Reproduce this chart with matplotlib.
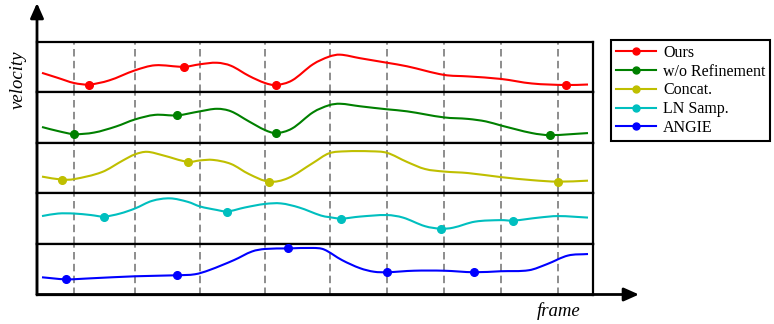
import numpy as np
import matplotlib
matplotlib.use("Agg")
import matplotlib.pyplot as plt
from matplotlib.path import Path
from matplotlib.patches import PathPatch, FancyArrowPatch, ArrowStyle
from matplotlib.lines import Line2D

plt.rcParams['font.family'] = ['Liberation Serif', 'DejaVu Serif']

# ---------------- data (frame position, normalised velocity within panel) ----------------
series_names = ["Ours", "w/o Refinement", "Concat.", "LN Samp.", "ANGIE"]
series_colors = ["r", "g", "y", "c", "b"]

frame_grid = [37, 97.5, 163, 228, 292.5, 350, 407, 464, 521]

ours_x = [5, 21, 37, 52, 72, 98, 118, 147, 163, 180, 194, 212, 228, 239, 255, 276, 292, 303,
          323, 350, 370, 407, 431, 464, 495, 529, 551]
ours_v = [0.38, 0.28, 0.18, 0.15, 0.23, 0.43, 0.53, 0.50, 0.55, 0.58, 0.52, 0.32, 0.18, 0.14,
          0.23, 0.55, 0.70, 0.74, 0.67, 0.58, 0.51, 0.34, 0.31, 0.26, 0.17, 0.14, 0.15]
ours_mx = [52, 147, 239, 529]
ours_mv = [0.15, 0.50, 0.14, 0.14]

wor_x = [5, 21, 37, 57, 79, 98, 118, 140, 163, 180, 194, 212, 228, 239, 255, 276, 292, 303,
         323, 350, 370, 407, 431, 449, 464, 495, 513, 551]
wor_v = [0.31, 0.23, 0.17, 0.20, 0.32, 0.46, 0.55, 0.54, 0.62, 0.67, 0.62, 0.42, 0.25, 0.19,
         0.28, 0.60, 0.74, 0.77, 0.72, 0.66, 0.62, 0.50, 0.47, 0.42, 0.34, 0.19, 0.15, 0.19]
wor_mx = [37, 140, 239, 513]
wor_mv = [0.17, 0.54, 0.19, 0.15]

concat_x = [5, 25, 37, 65, 86, 98, 110, 126, 151, 163, 176, 194, 212, 232, 251, 276, 292, 309,
            334, 350, 370, 388, 407, 431, 464, 495, 521, 551]
concat_v = [0.33, 0.27, 0.28, 0.42, 0.65, 0.77, 0.82, 0.75, 0.62, 0.65, 0.66, 0.58, 0.38, 0.23,
            0.30, 0.60, 0.79, 0.83, 0.83, 0.80, 0.62, 0.48, 0.43, 0.40, 0.32, 0.26, 0.23, 0.25]
concat_mx = [25, 151, 232, 521]
concat_mv = [0.27, 0.62, 0.23, 0.23]

ln_x = [5, 21, 37, 54, 67, 83, 98, 115, 133, 151, 163, 180, 190, 208, 228, 244, 262, 284, 292,
        304, 323, 350, 366, 388, 404, 416, 438, 464, 476, 502, 521, 551]
ln_v = [0.55, 0.60, 0.60, 0.57, 0.54, 0.60, 0.70, 0.85, 0.90, 0.83, 0.74, 0.67, 0.64, 0.72,
        0.79, 0.80, 0.72, 0.56, 0.53, 0.50, 0.54, 0.57, 0.52, 0.35, 0.30, 0.32, 0.44, 0.47,
        0.46, 0.52, 0.55, 0.52]
ln_mx = [67, 190, 304, 404, 476]
ln_mv = [0.54, 0.64, 0.50, 0.30, 0.46]

angie_x = [5, 29, 54, 98, 140, 158, 172, 197, 215, 228, 251, 276, 287, 305, 323, 337, 350, 377,
           407, 437, 464, 492, 510, 531, 551]
angie_v = [0.34, 0.30, 0.32, 0.36, 0.38, 0.40, 0.48, 0.68, 0.85, 0.90, 0.91, 0.92, 0.89, 0.68,
           0.52, 0.45, 0.44, 0.47, 0.47, 0.44, 0.46, 0.48, 0.60, 0.77, 0.80]
angie_mx = [29, 140, 251, 350, 437]
angie_mv = [0.30, 0.38, 0.91, 0.44, 0.44]

curves = [(ours_x, ours_v, ours_mx, ours_mv),
          (wor_x, wor_v, wor_mx, wor_mv),
          (concat_x, concat_v, concat_mx, concat_mv),
          (ln_x, ln_v, ln_mx, ln_mv),
          (angie_x, angie_v, angie_mx, angie_mv)]


def smooth_path(x, y):
    """Cubic Hermite (Bezier) path through the points."""
    x = np.asarray(x, float)
    y = np.asarray(y, float)
    n = len(x)
    m = np.zeros(n)
    for i in range(n):
        if i == 0:
            m[i] = (y[1] - y[0]) / (x[1] - x[0])
        elif i == n - 1:
            m[i] = (y[-1] - y[-2]) / (x[-1] - x[-2])
        else:
            m[i] = (y[i + 1] - y[i - 1]) / (x[i + 1] - x[i - 1])
    verts = [(x[0], y[0])]
    codes = [Path.MOVETO]
    for i in range(n - 1):
        h = x[i + 1] - x[i]
        verts += [(x[i] + h / 3, y[i] + m[i] * h / 3),
                  (x[i + 1] - h / 3, y[i + 1] - m[i + 1] * h / 3),
                  (x[i + 1], y[i + 1])]
        codes += [Path.CURVE4] * 3
    return Path(verts, codes)


# ---------------- figure ----------------
W, H = 774, 324
fig = plt.figure(figsize=(W / 100, H / 100), dpi=100)

left_px, right_px = 37, 593
top_px, bot_px = 41.5, 294.5
ph = (bot_px - top_px) / 5

for k, (cx, cv, mx, mv) in enumerate(curves):
    y_top = top_px + k * ph
    ax = fig.add_axes([left_px / W, 1 - (y_top + ph) / H, (right_px - left_px) / W, ph / H])
    ax.set_xlim(0, right_px - left_px)
    ax.set_ylim(0, 1)
    ax.set_xticks([])
    ax.set_yticks([])
    for s in ax.spines.values():
        s.set_linewidth(1.6)
        s.set_color('black')
    for g in frame_grid:
        ax.axvline(g, color='#7a7a7a', lw=1.2, linestyle=(0, (4.5, 2.6)), zorder=1)
    col = series_colors[k]
    ax.add_patch(PathPatch(smooth_path(cx, cv), facecolor='none', edgecolor=col, lw=1.5, zorder=3))
    ax.plot(mx, mv, 'o', color=col, ms=5.5, zorder=4)

# axis arrows
style = ArrowStyle('-|>', head_length=9, head_width=4)
fig.add_artist(FancyArrowPatch((left_px / W, 1 - bot_px / H), (left_px / W, 1 - 3 / H),
                               transform=fig.transFigure, arrowstyle=style, mutation_scale=1,
                               lw=2.0, color='black', shrinkA=0, shrinkB=0))
fig.add_artist(FancyArrowPatch((left_px / W, 1 - bot_px / H), (639 / W, 1 - bot_px / H),
                               transform=fig.transFigure, arrowstyle=style, mutation_scale=1,
                               lw=2.0, color='black', shrinkA=0, shrinkB=0))

fig.text(18 / W, 1 - 80 / H, "velocity", rotation=90, fontstyle='italic', fontsize=13.5,
         ha='center', va='center')
fig.text(559 / W, 1 - 311 / H, "frame", fontstyle='italic', fontsize=13.5,
         ha='center', va='center')

handles = [Line2D([], [], color=c, marker='o', ms=5, lw=1.5) for c in series_colors]
leg = fig.legend(handles, series_names, loc='upper left',
                 bbox_to_anchor=(611 / W, 1 - 40 / H), bbox_transform=fig.transFigure,
                 borderaxespad=0, fancybox=False, edgecolor='black', framealpha=1,
                 prop={'size': 11.5}, handlelength=2.5, handletextpad=0.45,
                 labelspacing=0.175, borderpad=0.3)
leg.get_frame().set_linewidth(1.5)

fig.savefig("out.png", dpi=100)
